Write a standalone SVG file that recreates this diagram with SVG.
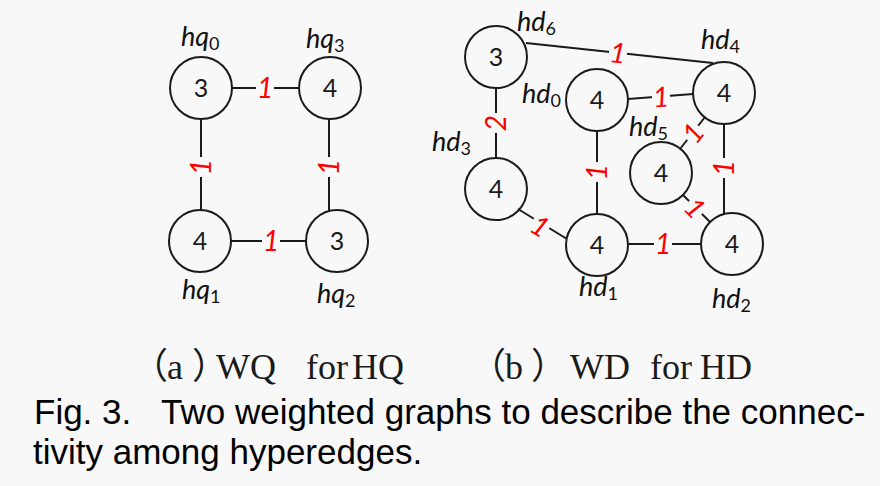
<svg xmlns="http://www.w3.org/2000/svg" width="880" height="486" viewBox="0 0 880 486">
<style>
.bg{fill:#f8f8f8}
.node circle{fill:none;stroke:#1a1a1a;stroke-width:2}
.num{font-family:Lato,'Open Sans',sans-serif;font-size:25px;fill:#1a1a1a;text-anchor:middle}
.lbl{font-family:Lato,'Open Sans',sans-serif;font-style:italic;font-size:27px;fill:#111}
.sub{font-style:normal;font-size:18px}
.edges line{stroke:#1a1a1a;stroke-width:2}
.w{font-family:Lato,'Open Sans',sans-serif;font-style:italic;font-size:28px;fill:#ff0000;text-anchor:middle}
.gap{fill:#f8f8f8}
.cap{font-family:'Liberation Serif','Noto Sans CJK SC',serif;font-size:36px;fill:#1a1a1a}
.fig{font-family:'Liberation Sans',Arial,sans-serif;font-size:35px;fill:#000}
</style>
<rect class="bg" x="0" y="0" width="880" height="486"/>

<g id="connectors" class="edges">
  <line x1="232" y1="88" x2="299" y2="88"/>
  <line x1="201" y1="119" x2="201" y2="210"/>
  <line x1="329" y1="119" x2="329" y2="211"/>
  <line x1="231" y1="241" x2="306" y2="241"/>
  <line x1="526" y1="43" x2="713" y2="63"/>
  <line x1="628" y1="99" x2="693" y2="94"/>
  <line x1="496" y1="88" x2="496" y2="158"/>
  <line x1="597" y1="131" x2="597" y2="214"/>
  <line x1="724" y1="124" x2="724" y2="215"/>
  <line x1="705" y1="117" x2="680" y2="149"/>
  <line x1="683" y1="195" x2="710" y2="222"/>
  <line x1="518" y1="209" x2="567" y2="239"/>
  <line x1="628" y1="244" x2="701" y2="244"/>

  <g transform="translate(265,88)"><rect class="gap" x="-9" y="-13" width="18" height="26"/><text class="w" y="10">1</text></g>
  <g transform="translate(201,167) rotate(-90)"><rect class="gap" x="-10" y="-13" width="20" height="26"/><text class="w" y="10">1</text></g>
  <g transform="translate(329,167) rotate(-90)"><rect class="gap" x="-10" y="-13" width="20" height="26"/><text class="w" y="10">1</text></g>
  <g transform="translate(271,241)"><rect class="gap" x="-9" y="-13" width="18" height="26"/><text class="w" y="10">1</text></g>

  <g transform="translate(618,53) rotate(6)"><rect class="gap" x="-9" y="-13" width="18" height="26"/><text class="w" y="10">1</text></g>
  <g transform="translate(661,97) rotate(-4)"><rect class="gap" x="-9" y="-13" width="18" height="26"/><text class="w" y="10">1</text></g>
  <g transform="translate(496,123) rotate(-90)"><rect class="gap" x="-10" y="-13" width="20" height="26"/><text class="w" y="10">2</text></g>
  <g transform="translate(597,172) rotate(-90)"><rect class="gap" x="-10" y="-13" width="20" height="26"/><text class="w" y="10">1</text></g>
  <g transform="translate(724,168) rotate(-90)"><rect class="gap" x="-10" y="-13" width="20" height="26"/><text class="w" y="10">1</text></g>
  <g transform="translate(693,133) rotate(-52)"><rect class="gap" x="-9" y="-13" width="18" height="26"/><text class="w" y="10">1</text></g>
  <g transform="translate(695,208) rotate(45)"><rect class="gap" x="-9" y="-13" width="18" height="26"/><text class="w" y="10">1</text></g>
  <g transform="translate(540,226) rotate(31)"><rect class="gap" x="-9" y="-13" width="18" height="26"/><text class="w" y="10">1</text></g>
  <g transform="translate(663,244)"><rect class="gap" x="-9" y="-13" width="18" height="26"/><text class="w" y="10">1</text></g>
</g>

<g id="hq0" class="node"><circle cx="201" cy="88" r="31"/><text class="num" x="201" y="97">3</text><text class="lbl" x="181" y="46">hq<tspan class="sub" dy="4">0</tspan></text></g>
<g id="hq3" class="node"><circle cx="330" cy="88" r="31"/><text class="num" x="330" y="97">4</text><text class="lbl" x="306" y="48">hq<tspan class="sub" dy="4">3</tspan></text></g>
<g id="hq1" class="node"><circle cx="200" cy="241" r="31"/><text class="num" x="200" y="250">4</text><text class="lbl" x="182" y="299">hq<tspan class="sub" dy="4">1</tspan></text></g>
<g id="hq2" class="node"><circle cx="337" cy="241" r="31"/><text class="num" x="337" y="250">3</text><text class="lbl" x="317" y="303">hq<tspan class="sub" dy="4">2</tspan></text></g>

<g id="hd6" class="node"><circle cx="496" cy="57" r="31"/><text class="num" x="496" y="66">3</text><text class="lbl" x="517" y="31">hd<tspan class="sub" dy="4">6</tspan></text></g>
<g id="hd0" class="node"><circle cx="597" cy="100" r="31"/><text class="num" x="597" y="109">4</text><text class="lbl" x="522" y="103">hd<tspan class="sub" dy="4">0</tspan></text></g>
<g id="hd4" class="node"><circle cx="724" cy="93" r="31"/><text class="num" x="724" y="102">4</text><text class="lbl" x="701" y="49">hd<tspan class="sub" dy="4">4</tspan></text></g>
<g id="hd5" class="node"><circle cx="661" cy="173" r="31"/><text class="num" x="661" y="182">4</text><text class="lbl" x="629" y="136">hd<tspan class="sub" dy="4">5</tspan></text></g>
<g id="hd3" class="node"><circle cx="496" cy="189" r="31"/><text class="num" x="496" y="198">4</text><text class="lbl" x="432" y="151">hd<tspan class="sub" dy="4">3</tspan></text></g>
<g id="hd1" class="node"><circle cx="597" cy="245" r="31"/><text class="num" x="597" y="254">4</text><text class="lbl" x="579" y="296">hd<tspan class="sub" dy="4">1</tspan></text></g>
<g id="hd2" class="node"><circle cx="732" cy="244" r="31"/><text class="num" x="732" y="253">4</text><text class="lbl" x="712" y="308">hd<tspan class="sub" dy="4">2</tspan></text></g>

<text class="cap" y="379"><tspan x="132">（</tspan><tspan x="167">a</tspan><tspan x="192">）</tspan><tspan x="216">WQ</tspan><tspan x="306">for</tspan><tspan x="352">HQ</tspan></text>
<text class="cap" y="379"><tspan x="470">（</tspan><tspan x="505">b</tspan><tspan x="531">）</tspan><tspan x="570">WD</tspan><tspan x="650">for</tspan><tspan x="700">HD</tspan></text>

<text class="fig" y="424"><tspan x="34">Fig. 3.</tspan><tspan x="161">Two weighted graphs to describe the connec-</tspan></text>
<text class="fig" x="33" y="464">tivity among hyperedges.</text>
</svg>
